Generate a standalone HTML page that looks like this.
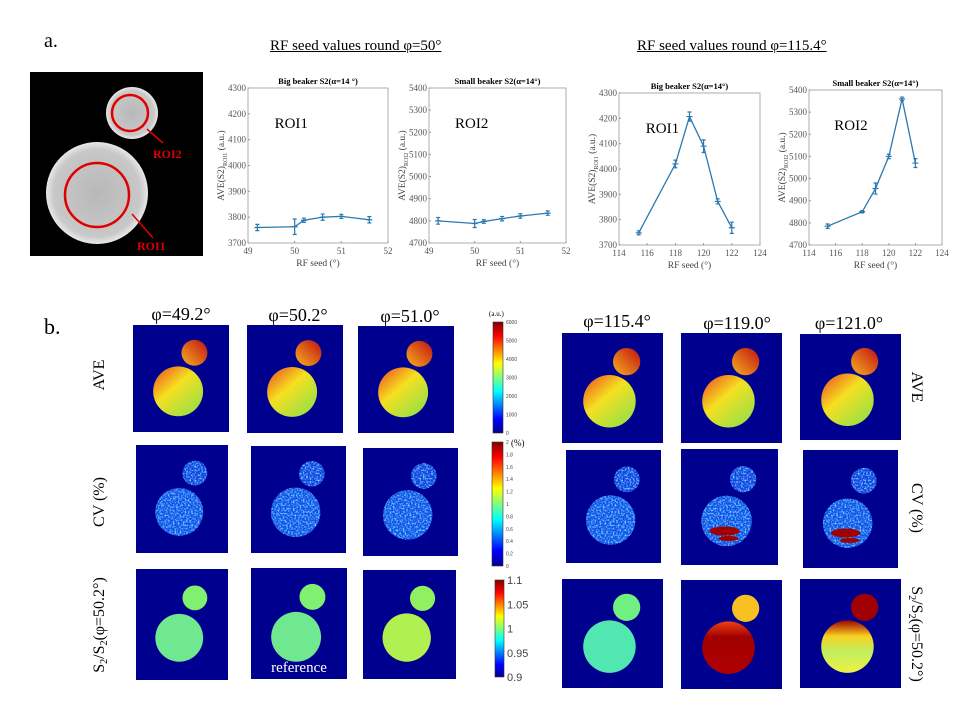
<!DOCTYPE html>
<html><head><meta charset="utf-8">
<style>
body{margin:0;background:#fff;}
#root{position:relative;width:960px;height:720px;overflow:hidden;font-family:"Liberation Serif",serif;}
.t{position:absolute;white-space:nowrap;color:#000;}
</style></head>
<body>
<div id="root">
<svg id="svg" width="960" height="720" style="position:absolute;left:0;top:0">
<defs>
<linearGradient id="jet" x1="0" y1="1" x2="0" y2="0">
<stop offset="0" stop-color="#00008f"/><stop offset="0.125" stop-color="#0000ff"/><stop offset="0.375" stop-color="#00ffff"/><stop offset="0.625" stop-color="#ffff00"/><stop offset="0.875" stop-color="#ff0000"/><stop offset="1" stop-color="#800000"/>
</linearGradient>
<linearGradient id="aveBig" x1="0" y1="0.3" x2="0.6" y2="1"><stop offset="0" stop-color="#f08020"/><stop offset="0.4" stop-color="#f5e020"/><stop offset="1" stop-color="#a8e040"/></linearGradient>
<linearGradient id="aveSmall" x1="0" y1="1" x2="1" y2="0"><stop offset="0" stop-color="#f8b020"/><stop offset="1" stop-color="#c01010"/></linearGradient>
<linearGradient id="s119" x1="0" y1="0" x2="0" y2="1"><stop offset="0" stop-color="#f04010"/><stop offset="0.3" stop-color="#a00000"/><stop offset="1" stop-color="#b00000"/></linearGradient>
<linearGradient id="s121" x1="0" y1="0" x2="0" y2="1"><stop offset="0" stop-color="#a00000"/><stop offset="0.3" stop-color="#f8d020"/><stop offset="0.6" stop-color="#c0f060"/><stop offset="1" stop-color="#f0f040"/></linearGradient>
<radialGradient id="mriBig"><stop offset="0" stop-color="#b8b8b8"/><stop offset="0.85" stop-color="#c8c8c8"/><stop offset="1" stop-color="#e8e8e8"/></radialGradient>
<filter id="noise" x="0" y="0" width="100%" height="100%"><feTurbulence type="fractalNoise" baseFrequency="0.6" numOctaves="1" seed="3"/><feColorMatrix values="0 0 0 0 0.2  0 0 0 0 0.7  0 0 0 0 1  0 0 0 3 -1.3"/><feComposite in2="SourceGraphic" operator="in"/></filter>
</defs>
</svg>
<div class="t" style="left:44px;top:30px;font-size:20px">a.</div>
<div class="t" style="left:44px;top:314px;font-size:22px">b.</div>
<div class="t" style="left:270px;top:38px;font-size:15px;text-decoration:underline">RF seed values round φ=50°</div>
<div class="t" style="left:637px;top:38px;font-size:15px;text-decoration:underline">RF seed values round φ=115.4°</div>
</div>
<script>
const NS="http://www.w3.org/2000/svg";
const svg=document.getElementById('svg');
function el(tag,attrs,parent){const e=document.createElementNS(NS,tag);for(const k in attrs)e.setAttribute(k,attrs[k]);(parent||svg).appendChild(e);return e;}
function txt(s,attrs,parent){const e=el('text',attrs,parent);e.textContent=s;return e;}

// MRI image
const mri=el('g',{});


el('rect',{x:30,y:72,width:173,height:184,fill:'#000'},mri);
el('circle',{cx:97,cy:193,r:51,fill:'url(#mriBig)'},mri);
el('circle',{cx:132,cy:113,r:26,fill:'url(#mriBig)'},mri);
el('circle',{cx:130,cy:113,r:18,fill:'none',stroke:'#e00000','stroke-width':2.5},mri);
el('circle',{cx:97,cy:195,r:32,fill:'none',stroke:'#e00000','stroke-width':2.5},mri);
el('line',{x1:163,y1:143,x2:147,y2:129,stroke:'#e00000','stroke-width':1.5},mri);
el('line',{x1:153,y1:238,x2:132,y2:214,stroke:'#e00000','stroke-width':1.5},mri);
txt('ROI2',{x:153,y:158,'font-size':12,'font-weight':'bold',fill:'#e00000','font-family':'Liberation Serif'},mri);
txt('ROI1',{x:137,y:250,'font-size':12,'font-weight':'bold',fill:'#e00000','font-family':'Liberation Serif'},mri);

// Chart data
const x50=[49.2,50,50.2,50.6,51,51.6];
const roi1_50=[3760,3763,3788,3800,3803,3790];
const err1_50=[12,30,8,12,8,12];
const roi2_50=[4800,4788,4797,4810,4822,4835];
const err2_50=[15,18,8,10,10,10];
const x115=[115.4,118,119,120,121,122];
const roi1_115=[3748,4020,4207,4090,3872,3768];
const err1_115=[8,15,18,25,10,22];
const roi2_115=[4785,4850,4955,5100,5360,5070];
const err2_115=[10,5,25,10,8,20];
const xt50=[49,50,51,52];
const xt115=[114,116,118,120,122,124];
const yt1=[3700,3800,3900,4000,4100,4200,4300];
const yt2=[4700,4800,4900,5000,5100,5200,5300,5400];

function chart(name,box,xd,yd,xs,ys,es,xticks,yticks,title,roi,ylabSub){
  const g=el('g',{});
  
  
  const X=v=>box.l+(v-xd[0])/(xd[1]-xd[0])*(box.r-box.l);
  const Y=v=>box.b-(v-yd[0])/(yd[1]-yd[0])*(box.b-box.t);
  el('rect',{x:box.l,y:box.t,width:box.r-box.l,height:box.b-box.t,fill:'#fff',stroke:'#999','stroke-width':0.8},g);
  xticks.forEach(v=>{el('line',{x1:X(v),y1:box.b,x2:X(v),y2:box.b-2,stroke:'#999'},g);txt(String(v),{x:X(v),y:box.b+11,'font-size':9,'text-anchor':'middle',fill:'#555'},g);});
  yticks.forEach(v=>{el('line',{x1:box.l,y1:Y(v),x2:box.l+2,y2:Y(v),stroke:'#999'},g);txt(String(v),{x:box.l-2,y:Y(v)+3,'font-size':9,'text-anchor':'end',fill:'#555'},g);});
  txt(title,{x:(box.l+box.r)/2,y:box.t-4,'font-size':8.5,'font-weight':'bold','text-anchor':'middle'},g);
  txt('RF seed (°)',{x:(box.l+box.r)/2,y:box.b+23,'font-size':9.5,'text-anchor':'middle',fill:'#444'},g);
  const yl=txt('',{transform:`translate(${box.l-24},${(box.t+box.b)/2}) rotate(-90)`,'font-size':9.5,'text-anchor':'middle',fill:'#444'},g);
  yl.innerHTML=`AVE(S2)<tspan font-size="6" dy="3">${ylabSub}</tspan><tspan dy="-3"> (a.u.)</tspan>`;
  txt(roi,{x:box.l+ (box.r-box.l)*0.19,y:box.t+40,'font-size':15},g);
  const pts=xs.map((v,i)=>X(v)+','+Y(ys[i])).join(' ');
  const ln=el('polyline',{points:pts,fill:'none',stroke:'#2a78b0','stroke-width':1.3},g);
  
  
  xs.forEach((v,i)=>{
    const x=X(v),y0=Y(ys[i]-es[i]),y1=Y(ys[i]+es[i]);
    const eb=el('path',{d:`M${x},${y0}V${y1}M${x-2},${y0}H${x+2}M${x-2},${y1}H${x+2}M${x-3},${Y(ys[i])}H${x+3}`,stroke:'#2a78b0','stroke-width':1.2,fill:'none'},g);
    
    
  });
}
chart('chart-big-beaker-50',{l:248,r:388,t:88,b:243},[49,52],[3700,4300],x50,roi1_50,err1_50,xt50,yt1,'Big beaker S2(α=14 °)','ROI1','ROI1');
chart('chart-small-beaker-50',{l:429,r:566,t:88,b:243},[49,52],[4700,5400],x50,roi2_50,err2_50,xt50,yt2,'Small beaker S2(α=14°)','ROI2','ROI2');
chart('chart-big-beaker-115',{l:619,r:760,t:93,b:245},[114,124],[3700,4300],x115,roi1_115,err1_115,xt115,yt1,'Big beaker S2(α=14°)','ROI1','ROI1');
chart('chart-small-beaker-115',{l:809,r:942,t:90,b:245},[114,124],[4700,5400],x115,roi2_115,err2_115,xt115,yt2,'Small beaker S2(α=14°)','ROI2','ROI2');

// Map panels
const panels=[
 // row, x,y,w,h, style
 ['ave-49',133,325,96,107,'ave'],['ave-50',247,325,96,108,'ave'],['ave-51',358,326,96,107,'ave'],
 ['cv-49',136,445,92,108,'cv'],['cv-50',251,446,95,107,'cv'],['cv-51',363,448,95,108,'cv'],
 ['ratio-49',136,569,92,111,'ratio'],['ratio-50',251,568,96,111,'ratio'],['ratio-51',363,570,93,109,'ratio2'],
 ['ave-115',562,333,101,110,'ave'],['ave-119',681,333,101,110,'ave'],['ave-121',800,334,101,106,'ave'],
 ['cv-115',566,450,95,113,'cv'],['cv-119',681,449,97,116,'cvhot'],['cv-121',803,450,95,118,'cvhot'],
 ['ratio-115',562,579,101,109,'ratio3'],['ratio-119',681,580,101,109,'r119'],['ratio-121',800,579,101,109,'r121']
];
panels.forEach(p=>{
  const [n,x,y,w,h,s]=p;
  const g=el('g',{});
  
  
  el('rect',{x,y,width:w,height:h,fill:'#00008f'},g);
  const sc={cx:x+0.64*w,cy:y+0.26*h,r:0.135*w}, bc={cx:x+0.47*w,cy:y+0.62*h,r:0.26*w};
  let fs,fb;
  if(s==='ave'){fs='url(#aveSmall)';fb='url(#aveBig)';}
  else if(s==='cv'||s==='cvhot'){fs='#1040e0';fb='#1050e8';}
  else if(s==='ratio'){fs='#80f070';fb='#70e890';}
  else if(s==='ratio2'){fs='#90f060';fb='#b0f050';}
  else if(s==='ratio3'){fs='#70f080';fb='#50e8b0';}
  else if(s==='r119'){fs='#f8c020';fb='url(#s119)';}
  else {fs='#a00000';fb='url(#s121)';}
  el('circle',{cx:sc.cx,cy:sc.cy,r:sc.r,fill:fs},g);
  el('circle',{cx:bc.cx,cy:bc.cy,r:bc.r,fill:fb},g);
  if(s==='cv'||s==='cvhot'){
    el('circle',{cx:sc.cx,cy:sc.cy,r:sc.r,fill:'#fff',filter:'url(#noise)'},g);
    el('circle',{cx:bc.cx,cy:bc.cy,r:bc.r,fill:'#fff',filter:'url(#noise)'},g);
  }
  if(s==='cvhot'){
    el('ellipse',{cx:bc.cx-2,cy:bc.cy+bc.r*0.4,rx:bc.r*0.6,ry:bc.r*0.18,fill:'#a00000'},g);
    el('ellipse',{cx:bc.cx+2,cy:bc.cy+bc.r*0.7,rx:bc.r*0.4,ry:bc.r*0.1,fill:'#a00000'},g);
  }
});
txt('reference',{x:299,y:672,'font-size':15,fill:'#fff','text-anchor':'middle'});

// Colorbars
const cbs=[['colorbar-ave',493,322,10,111,['6000','5000','4000','3000','2000','1000','0']],
           ['colorbar-cv',492,442,11,124,['2','1.8','1.6','1.4','1.2','1','0.8','0.6','0.4','0.2','0']],
           ['colorbar-ratio',495,580,9,97,['1.1','1.05','1','0.95','0.9']]];
cbs.forEach((c,ci)=>{
  const [n,x,y,w,h,labels]=c;
  const g=el('g',{});
  
  
  el('rect',{x,y,width:w,height:h,fill:'url(#jet)',stroke:'#333','stroke-width':0.6},g);
  labels.forEach((l,i)=>txt(l,{x:x+w+3,y:y+i*h/(labels.length-1)+(ci===2?4:2),'font-size':ci===2?11:5,fill:'#444','font-family':'Liberation Sans'},g));
});
txt('(a.u.)',{x:489,y:316,'font-size':7});
txt('(%)',{x:511,y:446,'font-size':9});

// Column headers
[['φ=49.2°',181,320],['φ=50.2°',298,321],['φ=51.0°',410,322],['φ=115.4°',617,327],['φ=119.0°',737,329],['φ=121.0°',849,329]].forEach(h=>{
  const t=txt(h[0],{x:h[1],y:h[2],'font-size':18,'text-anchor':'middle'});
  
  
});
// Row labels
function rl(s,x,y,rot,html){const t=txt('',{transform:`translate(${x},${y}) rotate(${rot})`,'font-size':16,'text-anchor':'middle'});if(html)t.innerHTML=s;else t.textContent=s;

}
rl('AVE',104,375,-90);rl('CV (%)',104,502,-90);
rl('S<tspan font-size="10" dy="3">2</tspan><tspan dy="-3">/S</tspan><tspan font-size="10" dy="3">2</tspan><tspan dy="-3">(φ=50.2°)</tspan>',104,625,-90,true);
rl('AVE',912,387,90);rl('CV (%)',912,508,90);
rl('S<tspan font-size="10" dy="3">2</tspan><tspan dy="-3">/S</tspan><tspan font-size="10" dy="3">2</tspan><tspan dy="-3">(φ=50.2°)</tspan>',912,634,90,true);
</script>
</body></html>
